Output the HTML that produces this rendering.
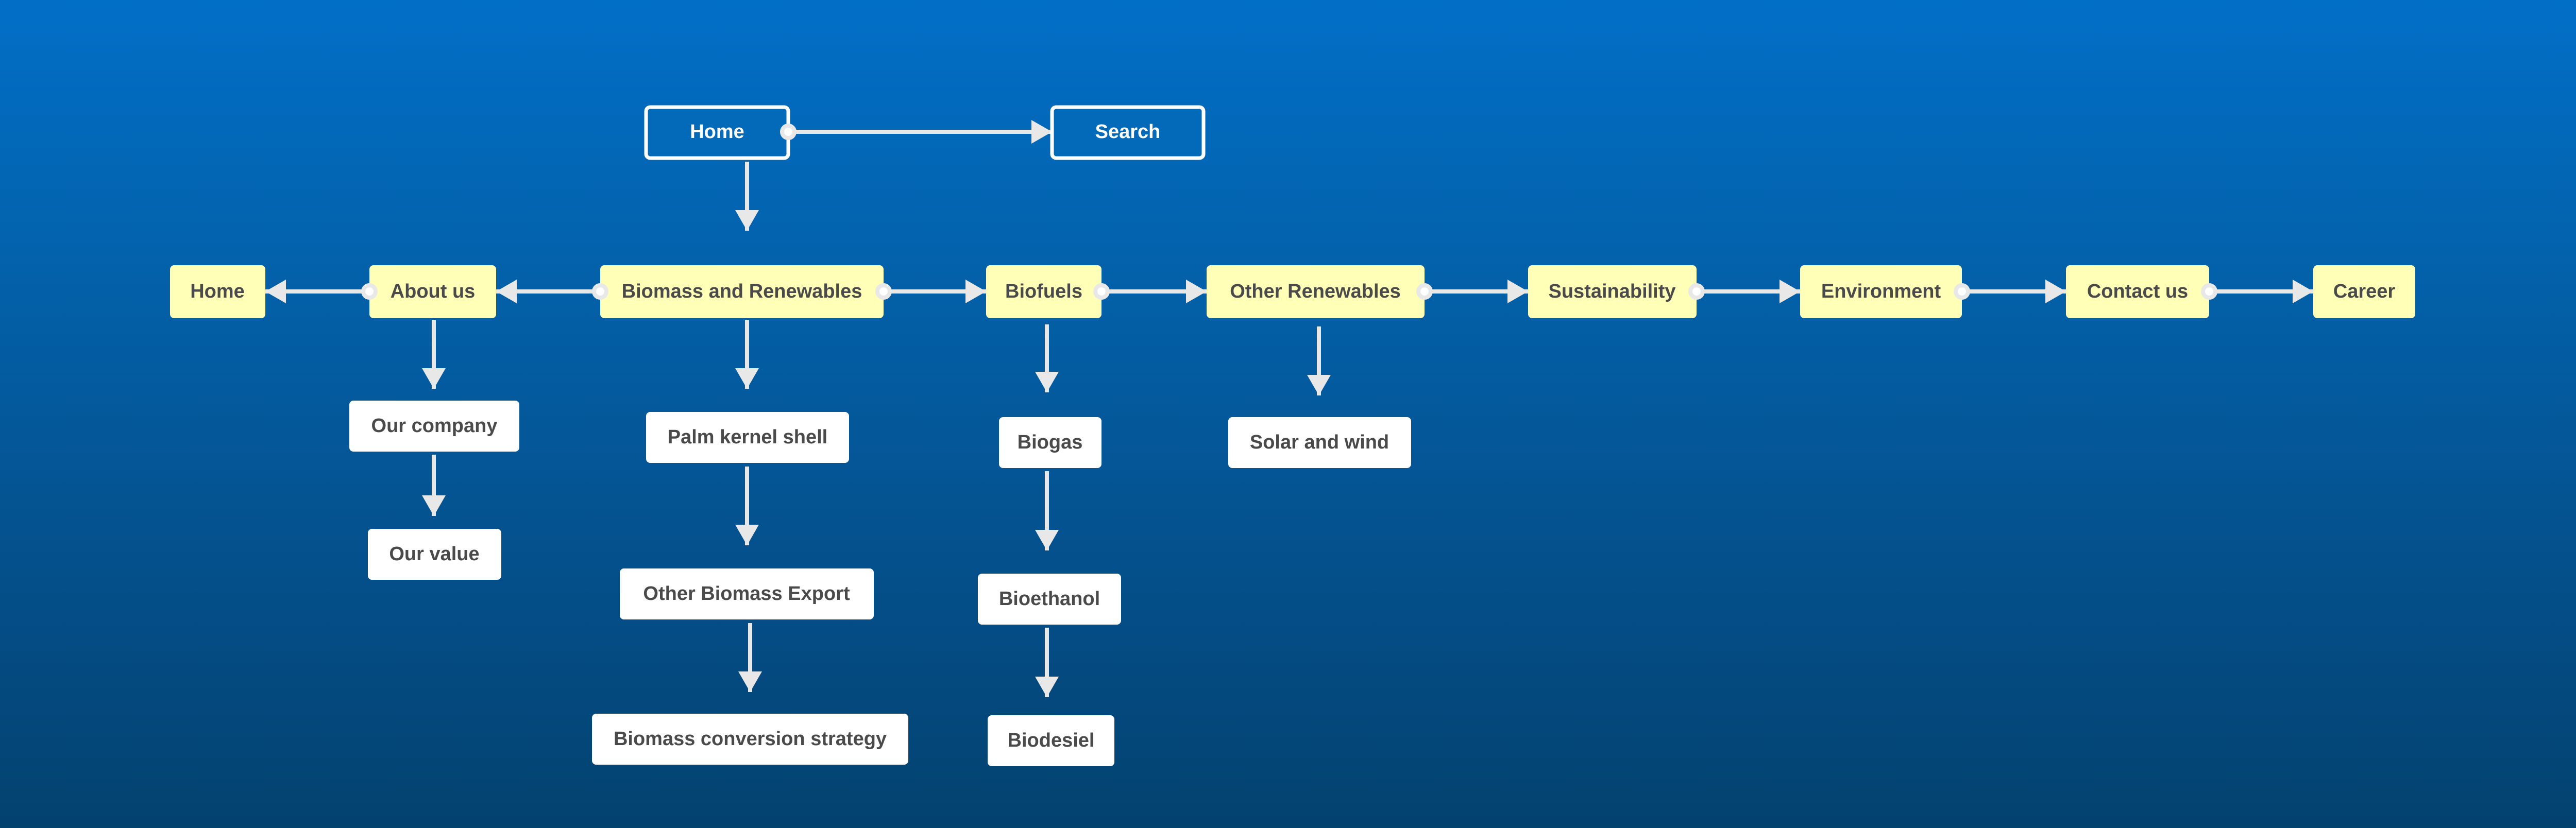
<!DOCTYPE html>
<html><head><meta charset="utf-8"><style>
html,body{margin:0;padding:0;width:5016px;height:1608px;overflow:hidden}
body{background:linear-gradient(180deg,#026fc7 0%,#0360a8 35%,#044f8a 70%,#03426f 100%)}
svg{display:block}
text{font-family:"Liberation Sans",sans-serif;font-weight:bold;font-size:38px;text-anchor:middle;dominant-baseline:central}
</style></head><body>
<svg width="5016" height="1608" viewBox="0 0 5016 1608" xmlns="http://www.w3.org/2000/svg">
<defs>
<marker id="a" markerUnits="userSpaceOnUse" markerWidth="40" markerHeight="46" refX="40" refY="23" orient="auto"><path d="M0,0 L40,23 L0,46 Z" fill="#e8e8e8"/></marker>
</defs>
<g stroke="#e8e8e8" stroke-width="8" fill="none" marker-end="url(#a)">
<line x1="1530" y1="256" x2="2042" y2="256"/>
<line x1="1450" y1="314" x2="1450" y2="448"/>
<line x1="717" y1="566" x2="515" y2="566"/>
<line x1="1165" y1="566" x2="963" y2="566"/>
<line x1="1715" y1="566" x2="1914" y2="566"/>
<line x1="2138" y1="566" x2="2342" y2="566"/>
<line x1="2765" y1="566" x2="2966" y2="566"/>
<line x1="3293" y1="566" x2="3494" y2="566"/>
<line x1="3808" y1="566" x2="4010" y2="566"/>
<line x1="4288" y1="566" x2="4490" y2="566"/>
<line x1="842" y1="621" x2="842" y2="755"/>
<line x1="842" y1="883" x2="842" y2="1002"/>
<line x1="1450" y1="621" x2="1450" y2="755"/>
<line x1="1450" y1="906" x2="1450" y2="1059"/>
<line x1="1456" y1="1210" x2="1456" y2="1344"/>
<line x1="2032" y1="630" x2="2032" y2="762"/>
<line x1="2032" y1="915" x2="2032" y2="1069"/>
<line x1="2032" y1="1219" x2="2032" y2="1354"/>
<line x1="2560" y1="634" x2="2560" y2="768"/>
</g>
<g fill="#026ab9" stroke="#fff" stroke-width="7">
<rect x="1254" y="208" width="276" height="99" rx="8"/>
<rect x="2042" y="208" width="294" height="99" rx="8"/>
</g>
<g fill="#ffffb8">
<rect x="330" y="515" width="185" height="103" rx="8"/>
<rect x="717" y="515" width="246" height="103" rx="8"/>
<rect x="1165" y="515" width="550" height="103" rx="8"/>
<rect x="1914" y="515" width="224" height="103" rx="8"/>
<rect x="2342" y="515" width="423" height="103" rx="8"/>
<rect x="2966" y="515" width="327" height="103" rx="8"/>
<rect x="3494" y="515" width="314" height="103" rx="8"/>
<rect x="4010" y="515" width="278" height="103" rx="8"/>
<rect x="4490" y="515" width="198" height="103" rx="8"/>
</g>
<g fill="#ffffff">
<rect x="678" y="778" width="330" height="99" rx="8"/>
<rect x="714" y="1027" width="259" height="99" rx="8"/>
<rect x="1254" y="800" width="394" height="99" rx="8"/>
<rect x="1203" y="1104" width="493" height="99" rx="8"/>
<rect x="1149" y="1386" width="614" height="99" rx="8"/>
<rect x="1939" y="810" width="199" height="99" rx="8"/>
<rect x="1898" y="1114" width="278" height="99" rx="8"/>
<rect x="1917" y="1389" width="246" height="99" rx="8"/>
<rect x="2384" y="810" width="355" height="99" rx="8"/>
</g>
<g fill="#fff" stroke="#e8e8e8" stroke-width="8">
<circle cx="1530" cy="256" r="12"/>
<circle cx="717" cy="566" r="12"/>
<circle cx="1165" cy="566" r="12"/>
<circle cx="1715" cy="566" r="12"/>
<circle cx="2138" cy="566" r="12"/>
<circle cx="2765" cy="566" r="12"/>
<circle cx="3293" cy="566" r="12"/>
<circle cx="3808" cy="566" r="12"/>
<circle cx="4288" cy="566" r="12"/>
</g>
<g fill="#ffffff">
<text x="1392" y="256">Home</text>
<text x="2189" y="256">Search</text>
</g>
<g fill="#4a4a4a">
<text x="422" y="566">Home</text>
<text x="840" y="566">About us</text>
<text x="1440" y="566">Biomass and Renewables</text>
<text x="2026" y="566">Biofuels</text>
<text x="2553" y="566">Other Renewables</text>
<text x="3129" y="566">Sustainability</text>
<text x="3651" y="566">Environment</text>
<text x="4149" y="566">Contact us</text>
<text x="4589" y="566">Career</text>
<text x="843" y="827">Our company</text>
<text x="843" y="1076">Our value</text>
<text x="1451" y="849">Palm kernel shell</text>
<text x="1449" y="1153">Other Biomass Export</text>
<text x="1456" y="1435">Biomass conversion strategy</text>
<text x="2038" y="859">Biogas</text>
<text x="2037" y="1163">Bioethanol</text>
<text x="2040" y="1438">Biodesiel</text>
<text x="2561" y="859">Solar and wind</text>
</g>
</svg>
</body></html>
